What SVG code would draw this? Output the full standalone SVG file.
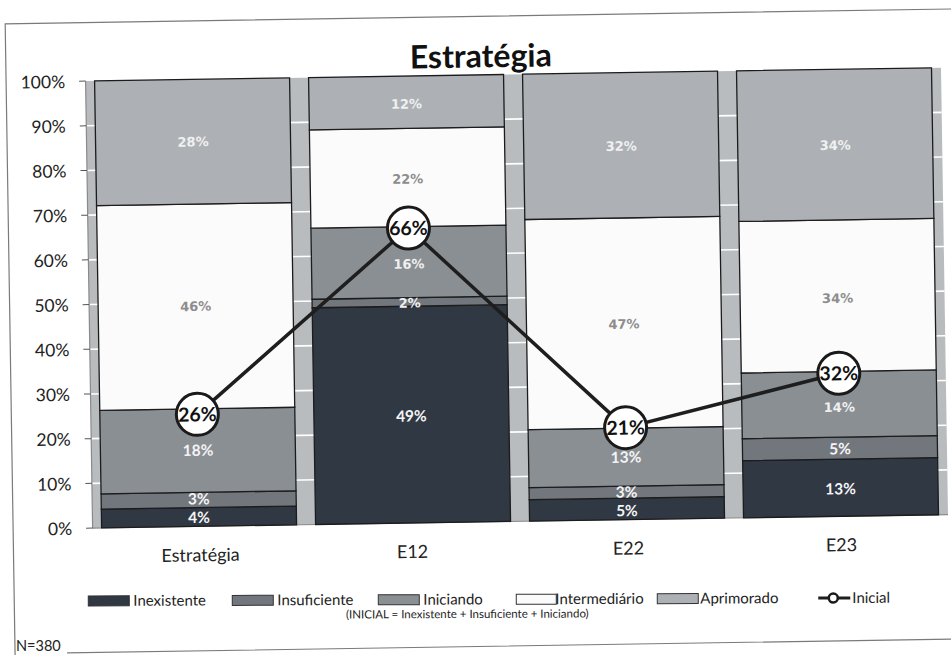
<svg xmlns="http://www.w3.org/2000/svg" width="951" height="655" viewBox="0 0 951 655">
<defs>
<style>
.frame{fill:none;stroke:#7a7a7a;stroke-width:1.2}
.bg{fill:#b9bcbf}
.grid{stroke:#ffffff;stroke-width:1.6}
.axis{stroke:#8a8a8a;stroke-width:1.2;fill:none}
.tick{stroke:#555;stroke-width:1}
.seg{stroke:#1c1c1c;stroke-width:1.3}
.inex{fill:#303844}
.insu{fill:#72777d}
.inic{fill:#8a8f94}
.inter{fill:#fbfbfb}
.apri{fill:#adb1b5}
.ylab{font-family:Lato,"Liberation Sans",sans-serif;font-size:17.5px;fill:#222;text-anchor:end}
.cat{font-family:Lato,"Liberation Sans",sans-serif;font-size:18px;fill:#222;text-anchor:middle}
.vl{font-family:"DejaVu Sans",Verdana,sans-serif;font-size:13px;font-weight:bold;text-anchor:middle}
.cl{font-family:Lato,"Liberation Sans",sans-serif;font-size:15.5px;font-weight:bold;text-anchor:middle;fill:#f4f4f4}
.w{fill:#f0f0f0}
.g{fill:#8d8d8d}
.line{fill:none;stroke:#1e1e1e;stroke-width:3.5;stroke-linejoin:round}
.mk{fill:#ffffff;stroke:#1a1a1a;stroke-width:3}
.mkt{font-family:Lato,"Liberation Sans",sans-serif;font-size:19.5px;font-weight:bold;fill:#111;text-anchor:middle}
.leg{font-family:Lato,"Liberation Sans",sans-serif;font-size:15px;fill:#222}
.sub{font-family:Lato,"Liberation Sans",sans-serif;font-size:11.5px;fill:#222;text-anchor:middle}
.title{font-family:Lato,"Liberation Sans",sans-serif;font-size:32px;font-weight:bold;fill:#111;text-anchor:middle}
.sw{stroke:#333;stroke-width:1}
</style>
</defs>
<rect x="0" y="0" width="951" height="655" fill="#ffffff"/>
<g transform="rotate(-0.9 475 327)">
<path class="frame" d="M10 649 L10 16.5 L965 16.5 M62 646.5 L965 646.5"/>

<g id="plot-area">
<rect class="bg" x="89.5" y="75" width="855.5" height="447"/>
<g class="grid">
<line x1="89.5" y1="119.7" x2="945" y2="119.7"/>
<line x1="89.5" y1="164.4" x2="945" y2="164.4"/>
<line x1="89.5" y1="209.1" x2="945" y2="209.1"/>
<line x1="89.5" y1="253.8" x2="945" y2="253.8"/>
<line x1="89.5" y1="298.5" x2="945" y2="298.5"/>
<line x1="89.5" y1="343.2" x2="945" y2="343.2"/>
<line x1="89.5" y1="387.9" x2="945" y2="387.9"/>
<line x1="89.5" y1="432.6" x2="945" y2="432.6"/>
<line x1="89.5" y1="477.3" x2="945" y2="477.3"/>
</g>
<path class="axis" d="M89.5 75 L89.5 522 L945 522"/>
<g class="tick">
<line x1="83" y1="75" x2="89.5" y2="75"/>
<line x1="83" y1="119.7" x2="89.5" y2="119.7"/>
<line x1="83" y1="164.4" x2="89.5" y2="164.4"/>
<line x1="83" y1="209.1" x2="89.5" y2="209.1"/>
<line x1="83" y1="253.8" x2="89.5" y2="253.8"/>
<line x1="83" y1="298.5" x2="89.5" y2="298.5"/>
<line x1="83" y1="343.2" x2="89.5" y2="343.2"/>
<line x1="83" y1="387.9" x2="89.5" y2="387.9"/>
<line x1="83" y1="432.6" x2="89.5" y2="432.6"/>
<line x1="83" y1="477.3" x2="89.5" y2="477.3"/>
<line x1="83" y1="522" x2="89.5" y2="522"/>
</g>
</g>

<g id="y-axis-labels">
<text class="ylab" x="69" y="81.5">100%</text>
<text class="ylab" x="69" y="126.2">90%</text>
<text class="ylab" x="69" y="170.9">80%</text>
<text class="ylab" x="69" y="215.6">70%</text>
<text class="ylab" x="69" y="260.3">60%</text>
<text class="ylab" x="69" y="305">50%</text>
<text class="ylab" x="69" y="349.7">40%</text>
<text class="ylab" x="69" y="394.4">30%</text>
<text class="ylab" x="69" y="439.1">20%</text>
<text class="ylab" x="69" y="483.8">10%</text>
<text class="ylab" x="69" y="528.5">0%</text>
</g>

<g id="bar-estrategia">
<rect class="seg inex" x="98.5" y="503.2" width="195" height="18.8"/>
<rect class="seg insu" x="98.5" y="488" width="195" height="15.2"/>
<rect class="seg inic" x="98.5" y="404.4" width="195" height="83.6"/>
<rect class="seg inter" x="98.5" y="199.7" width="195" height="204.7"/>
<rect class="seg apri" x="98.5" y="75" width="195" height="124.7"/>
<text class="cl" x="196" y="518.5">4%</text>
<text class="cl" x="196" y="500">3%</text>
<text class="cl" x="196" y="451.5">18%</text>
<text class="vl g" x="196" y="306.5">46%</text>
<text class="vl w" x="196" y="142">28%</text>
</g>

<g id="bar-e12">
<rect class="seg inex" x="312.5" y="305.2" width="195" height="216.8"/>
<rect class="seg insu" x="312.5" y="296.7" width="195" height="8.5"/>
<rect class="seg inic" x="312.5" y="225.6" width="195" height="71.1"/>
<rect class="seg inter" x="312.5" y="127.3" width="195" height="98.3"/>
<rect class="seg apri" x="312.5" y="75" width="195" height="52.3"/>
<text class="cl" x="410" y="420.5">49%</text>
<text class="vl w" x="410" y="306.5">2%</text>
<text class="vl w" x="410" y="267.5">16%</text>
<text class="vl g" x="410" y="182.5">22%</text>
<text class="vl w" x="410" y="107.5">12%</text>
</g>

<g id="bar-e22">
<rect class="seg inex" x="526.5" y="500.5" width="195" height="21.5"/>
<rect class="seg insu" x="526.5" y="488.5" width="195" height="12"/>
<rect class="seg inic" x="526.5" y="430.4" width="195" height="58.1"/>
<rect class="seg inter" x="526.5" y="220.3" width="195" height="210.1"/>
<rect class="seg apri" x="526.5" y="75" width="195" height="145.3"/>
<text class="cl" x="624" y="518.5">5%</text>
<text class="cl" x="624" y="500">3%</text>
<text class="cl" x="624" y="465">13%</text>
<text class="vl g" x="624" y="331">47%</text>
<text class="vl w" x="624" y="153">32%</text>
</g>

<g id="bar-e23">
<rect class="seg inex" x="740.5" y="464.8" width="195" height="57.2"/>
<rect class="seg insu" x="740.5" y="442.9" width="195" height="21.9"/>
<rect class="seg inic" x="740.5" y="377.2" width="195" height="65.7"/>
<rect class="seg inter" x="740.5" y="225.6" width="195" height="151.6"/>
<rect class="seg apri" x="740.5" y="75" width="195" height="150.6"/>
<text class="cl" x="838" y="500">13%</text>
<text class="cl" x="838" y="460">5%</text>
<text class="vl w" x="838" y="417.5">14%</text>
<text class="vl g" x="838" y="308.5">34%</text>
<text class="vl w" x="838" y="155.5">34%</text>
</g>

<g id="connectors">
<polyline class="line" points="196,410 410,227 624,430 838,379"/>
</g>

<g id="marker-estrategia"><circle class="mk" cx="196" cy="410" r="21"/><text class="mkt" x="196" y="417">26%</text></g>
<g id="marker-e12"><circle class="mk" cx="410" cy="227" r="21"/><text class="mkt" x="410" y="234">66%</text></g>
<g id="marker-e22"><circle class="mk" cx="624" cy="430" r="21"/><text class="mkt" x="624" y="437">21%</text></g>
<g id="marker-e23"><circle class="mk" cx="838" cy="379" r="21"/><text class="mkt" x="838" y="386">32%</text></g>

<g id="category-labels">
<text class="cat" x="197" y="557">Estratégia</text>
<text class="cat" x="409" y="557">E12</text>
<text class="cat" x="625" y="557">E22</text>
<text class="cat" x="838" y="557">E23</text>
</g>

<text id="title" class="title" x="485" y="67.5">Estratégia</text>

<g id="legend" transform="rotate(0.67 475 600)">
<rect class="sw inex" x="84" y="594.5" width="41" height="10"/>
<text class="leg" x="129" y="604.5">Inexistente</text>
<rect class="sw insu" x="228" y="594.5" width="41" height="10"/>
<text class="leg" x="273" y="604.5">Insuficiente</text>
<rect class="sw inic" x="374" y="594.5" width="41" height="10"/>
<text class="leg" x="419" y="604.5">Iniciando</text>
<rect class="sw inter" x="512" y="594.5" width="40" height="10"/>
<text class="leg" x="551" y="604.5">Intermediário</text>
<rect class="sw apri" x="653" y="594.5" width="41" height="10"/>
<text class="leg" x="696" y="604.5">Aprimorado</text>
<line x1="814" y1="599.5" x2="846" y2="599.5" stroke="#1e1e1e" stroke-width="3"/>
<circle cx="829" cy="599.5" r="4.5" fill="#fff" stroke="#1a1a1a" stroke-width="2.5"/>
<text class="leg" x="848" y="604.5">Inicial</text>
<text class="sub" x="463" y="618">(INICIAL = Inexistente + Insuficiente + Iniciando)</text>
</g>
</g>
<text id="n-label" x="16" y="651" font-family="Lato, 'Liberation Sans', sans-serif" font-size="14.5" fill="#222">N=380</text>
</svg>
